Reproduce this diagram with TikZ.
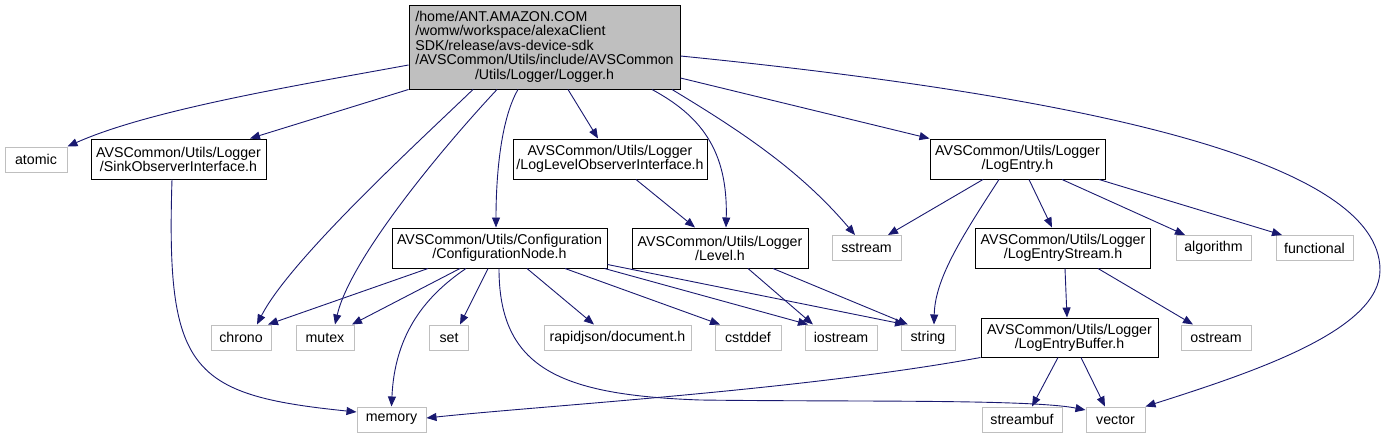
\documentclass[tikz,border=0pt]{standalone}
\usepackage{fontspec}
\setmainfont{Liberation Sans}
\usepackage{xcolor}
\usepackage{tikz}
\usetikzlibrary{arrows.meta}
\definecolor{navy}{HTML}{191970}
\definecolor{gray75}{HTML}{BFBFBF}

\begin{document}
\begin{tikzpicture}[x=1pt, y=-1pt,
    every node/.style={font=\fontsize{14.2}{14}\selectfont, inner sep=0pt},
    srcbox/.style={draw=black, fill=gray75, line width=1pt},
    filebox/.style={draw=black, fill=white, line width=1pt, minimum height=40pt, align=center},
    sysbox/.style={draw=gray75, fill=white, line width=1pt, minimum height=25pt},
    dep/.style={draw=navy, line width=0.9pt, -{Triangle[length=10pt,width=8pt]}}]
    \useasboundingbox (0,0) rectangle (1385,439);
    % the header itself
    \node[srcbox, minimum width=271pt, minimum height=84pt] (logger) at (544.5,47)
        {\begin{tabular}{@{}l@{}}/home/ANT.AMAZON.COM\\/womw/workspace/alexaClient\\SDK/release/avs-device-sdk\\/AVSCommon/Utils/include/AVSCommon\\\multicolumn{1}{@{}c@{}}{/Utils/Logger/Logger.h}\end{tabular}};
    % first level
    \node[sysbox, minimum width=62pt] (atomic) at (36,159.5) {atomic};
    \node[filebox, minimum width=175pt] (sinkobs) at (178.5,159) {AVSCommon/Utils/Logger\\/SinkObserverInterface.h};
    \node[filebox, minimum width=194pt] (levelobs) at (610,159) {AVSCommon/Utils/Logger\\/LogLevelObserverInterface.h};
    \node[filebox, minimum width=175pt] (logentry) at (1017.5,159) {AVSCommon/Utils/Logger\\/LogEntry.h};
    % second level
    \node[filebox, minimum width=215pt] (confnode) at (499.5,248) {AVSCommon/Utils/Configuration\\/ConfigurationNode.h};
    \node[filebox, minimum width=176pt] (level) at (720,248) {AVSCommon/Utils/Logger\\/Level.h};
    \node[sysbox, minimum width=69pt] (sstream) at (866.5,248) {sstream};
    \node[filebox, minimum width=175pt] (entrystream) at (1063,248) {AVSCommon/Utils/Logger\\/LogEntryStream.h};
    \node[sysbox, minimum width=75pt] (algorithm) at (1213.5,248) {algorithm};
    \node[sysbox, minimum width=77pt] (functional) at (1314.5,248) {functional};
    % third level
    \node[sysbox, minimum width=60pt] (chrono) at (241,337.5) {chrono};
    \node[sysbox, minimum width=58pt] (mutex) at (325,337.5) {mutex};
    \node[sysbox, minimum width=39pt] (set) at (449,337.5) {set};
    \node[sysbox, minimum width=147pt] (rapidjson) at (617.5,337.5) {rapidjson/document.h};
    \node[sysbox, minimum width=66pt] (cstddef) at (748,337.5) {cstddef};
    \node[sysbox, minimum width=72pt] (iostream) at (841,337.5) {iostream};
    \node[sysbox, minimum width=54pt] (string) at (928,337.5) {string};
    \node[filebox, minimum width=177pt, minimum height=39pt] (entrybuffer) at (1069.5,337.5) {AVSCommon/Utils/Logger\\/LogEntryBuffer.h};
    \node[sysbox, minimum width=70pt] (ostream) at (1216,337.5) {ostream};
    % bottom row
    \node[sysbox, minimum width=69pt] (memory) at (391.5,419.5) {memory};
    \node[sysbox, minimum width=80pt] (streambuf) at (1022,419.5) {streambuf};
    \node[sysbox, minimum width=59pt] (vector) at (1115.5,419.5) {vector};

    % includes of Logger.h
    \draw[dep] ([yshift=-18pt]logger.west) .. controls +(-109,20) and +(83,-37) .. (atomic.north east);
    \draw[dep] (logger.south west) -- ([xshift=71.5pt]sinkobs.north);
    \draw[dep] ([xshift=-71.5pt]logger.south) .. controls +(-53,51) and +(33,-65) .. ([xshift=16pt]chrono.north);
    \draw[dep] ([xshift=-47.5pt]logger.south) .. controls +(-57,61) and +(15,-65) .. ([xshift=10pt]mutex.north);
    \draw[dep] ([xshift=-26.5pt]logger.south) .. controls +(-18,31) and +(0,-48) .. ([xshift=-3.5pt]confnode.north);
    \draw[dep] ([xshift=23.5pt]logger.south) -- ([xshift=-12pt]levelobs.north);
    \draw[dep] ([xshift=107.5pt]logger.south) .. controls +(48,26) and +(2,-78) .. ([xshift=6pt]level.north);
    \draw[dep] ([xshift=127.5pt]logger.south) .. controls +(68,41) and +(-55,-65) .. ([xshift=-11.5pt]sstream.north);
    \draw[dep] ([yshift=-31pt]logger.east) -- (logentry.north west);
    \draw[dep] ([yshift=-9pt]logger.east) .. controls +(400,40) and +(0,-110) .. (1380,270)
        .. controls +(0,60) and +(110,-35) .. (vector.north east);
    % includes of the other headers
    \draw[dep] ([xshift=-6.5pt]sinkobs.south) .. controls +(-6,191) and +(-167,-17) .. ([yshift=7.5pt]memory.west);
    \draw[dep] ([xshift=26pt]levelobs.south) -- ([xshift=-25pt]level.north);
    \draw[dep] ([xshift=-71.5pt]confnode.south) -- ([xshift=27pt]chrono.north);
    \draw[dep] ([xshift=-39.5pt]confnode.south) -- ([xshift=27pt]mutex.north);
    \draw[dep] ([xshift=-33.5pt]confnode.south) .. controls +(-46,31) and +(3,-67) .. (memory.north);
    \draw[dep] ([xshift=-11.5pt]confnode.south) -- ([xshift=11pt]set.north);
    \draw[dep] ([xshift=-0.5pt]confnode.south) .. controls +(0,100) and +(-140,-5) .. (700,400)
        .. controls +(150,2) and +(-56,-11) .. ([yshift=9.5pt]vector.west);
    \draw[dep] ([xshift=27.5pt]confnode.south) -- ([xshift=-23.5pt]rapidjson.north);
    \draw[dep] ([xshift=65.5pt]confnode.south) -- ([xshift=-28pt]cstddef.north);
    \draw[dep] ([xshift=-3pt]confnode.south east) -- ([xshift=-33pt]iostream.north);
    \draw[dep] ([yshift=4pt]confnode.south east) -- ([xshift=-23pt]string.north);
    \draw[dep] ([xshift=28pt]level.south) -- ([xshift=-28pt]iostream.north);
    \draw[dep] ([xshift=53pt]level.south) -- ([xshift=-20pt]string.north);
    \draw[dep] ([xshift=-34.5pt]logentry.south) -- ([xshift=21.5pt]sstream.north);
    \draw[dep] ([xshift=-18.5pt]logentry.south) .. controls +(-39,60) and +(1,-45) .. ([xshift=6pt]string.north);
    \draw[dep] ([xshift=11.5pt]logentry.south) -- ([xshift=-11pt]entrystream.north);
    \draw[dep] ([xshift=44.5pt]logentry.south) -- ([xshift=-28.5pt]algorithm.north);
    \draw[dep] ([xshift=81.5pt]logentry.south) -- ([xshift=-32.5pt]functional.north);
    \draw[dep] ([xshift=2pt]entrystream.south) -- ([xshift=-2.5pt]entrybuffer.north);
    \draw[dep] ([xshift=35pt]entrystream.south) -- ([xshift=-23pt]ostream.north);
    \draw[dep] (entrybuffer.south west) .. controls +(-181,33) and +(124,-13) .. ([yshift=1.5pt]memory.east);
    \draw[dep] ([xshift=-11.5pt]entrybuffer.south) -- ([xshift=10pt]streambuf.north);
    \draw[dep] ([xshift=11.5pt]entrybuffer.south) -- ([xshift=-10.5pt]vector.north);
\end{tikzpicture}
\end{document}
